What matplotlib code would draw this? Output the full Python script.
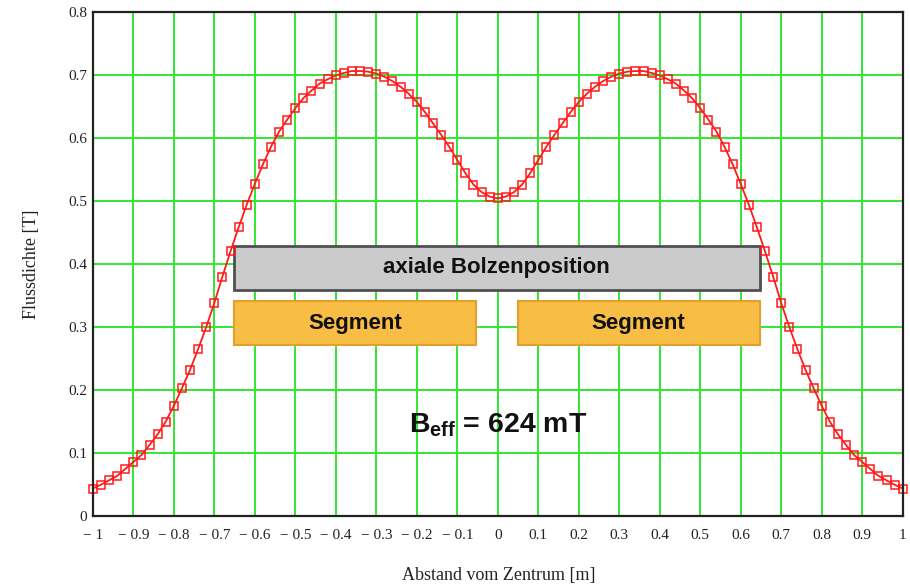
import matplotlib
matplotlib.use("Agg")
import matplotlib.pyplot as plt
from matplotlib.patches import Rectangle

# Flux density profile along the axis (positions in m, flux density in T)
positions = [round(-1 + 0.02 * i, 2) for i in range(101)]
flux = [
    0.044, 0.050, 0.057, 0.064, 0.075, 0.086, 0.097, 0.113, 0.130, 0.150,
    0.175, 0.203, 0.232, 0.265, 0.300, 0.338, 0.380, 0.420, 0.458, 0.494,
    0.527, 0.558, 0.586, 0.610, 0.629, 0.647, 0.663, 0.675, 0.686, 0.693,
    0.699, 0.703, 0.706, 0.706, 0.705, 0.702, 0.697, 0.690, 0.681, 0.670,
    0.657, 0.641, 0.623, 0.605, 0.586, 0.565, 0.544, 0.526, 0.514, 0.507,
    0.504,
    0.507, 0.514, 0.526, 0.544, 0.565, 0.586, 0.605, 0.623, 0.641, 0.657,
    0.670, 0.681, 0.690, 0.697, 0.702, 0.705, 0.706, 0.706, 0.703, 0.699,
    0.693, 0.686, 0.675, 0.663, 0.647, 0.629, 0.610, 0.586, 0.558, 0.527,
    0.494, 0.458, 0.420, 0.380, 0.338, 0.300, 0.265, 0.232, 0.203, 0.175,
    0.150, 0.130, 0.113, 0.097, 0.086, 0.075, 0.064, 0.057, 0.050, 0.044,
]

x_ticks = [-1, -0.9, -0.8, -0.7, -0.6, -0.5, -0.4, -0.3, -0.2, -0.1,
           0, 0.1, 0.2, 0.3, 0.4, 0.5, 0.6, 0.7, 0.8, 0.9, 1]
x_tick_labels = ["\u2212 1", "\u2212 0.9", "\u2212 0.8", "\u2212 0.7", "\u2212 0.6",
                 "\u2212 0.5", "\u2212 0.4", "\u2212 0.3", "\u2212 0.2", "\u2212 0.1",
                 "0", "0.1", "0.2", "0.3", "0.4", "0.5", "0.6", "0.7", "0.8", "0.9", "1"]
y_ticks = [0, 0.1, 0.2, 0.3, 0.4, 0.5, 0.6, 0.7, 0.8]
y_tick_labels = ["0", "0.1", "0.2", "0.3", "0.4", "0.5", "0.6", "0.7", "0.8"]

# Bolt and segment extents (x from, x to, y from, y to)
bolt = (-0.652, 0.647, 0.359, 0.429)
segments = [(-0.652, -0.054, 0.271, 0.341), (0.049, 0.647, 0.271, 0.341)]
b_eff_mT = 624

serif = "Liberation Serif"
sans = "Liberation Sans"

plt.rcParams["mathtext.fontset"] = "custom"
plt.rcParams["mathtext.rm"] = sans + ":bold"
plt.rcParams["mathtext.bf"] = sans + ":bold"

fig = plt.figure(figsize=(9.10, 5.88), dpi=100)
ax = fig.add_axes([0.102, 0.122, 0.890, 0.858])

ax.set_xlim(-1, 1)
ax.set_ylim(0, 0.8)
ax.set_xticks(x_ticks)
ax.set_xticklabels(x_tick_labels, fontfamily=serif, fontsize=11, color="#222222")
ax.set_yticks(y_ticks)
ax.set_yticklabels(y_tick_labels, fontfamily=serif, fontsize=11, color="#222222")
ax.tick_params(axis="x", length=0, pad=9)
ax.tick_params(axis="y", length=0, pad=4)

ax.grid(True, color="#33e633", linewidth=1.4, zorder=0)
ax.set_axisbelow(True)
for side in ["left", "bottom", "top", "right"]:
    ax.spines[side].set_color("#222222")
    ax.spines[side].set_linewidth(1.6)
    ax.spines[side].set_zorder(5)

# Boxes
x0, x1, y0, y1 = bolt
ax.add_patch(Rectangle((x0, y0), x1 - x0, y1 - y0, facecolor="#cbcbcb",
                       edgecolor="#505050", linewidth=2.0, zorder=2))
ax.text((x0 + x1) / 2, (y0 + y1) / 2, "axiale Bolzenposition", ha="center",
        va="center", fontfamily=sans, fontweight="bold", fontsize=16,
        color="#111111", zorder=3)
for (sx0, sx1, sy0, sy1) in segments:
    ax.add_patch(Rectangle((sx0, sy0), sx1 - sx0, sy1 - sy0, facecolor="#f8bd45",
                           edgecolor="#e3a02e", linewidth=1.5, zorder=2))
    ax.text((sx0 + sx1) / 2, (sy0 + sy1) / 2, "Segment", ha="center", va="center",
            fontfamily=sans, fontweight="bold", fontsize=16, color="#111111",
            zorder=3)

ax.text(0, 0.144, r"B$_{\mathbf{eff}}$ = %d mT" % b_eff_mT, ha="center",
        va="center", fontfamily=sans, fontweight="bold", fontsize=20.5,
        color="#111111", zorder=3)

# Flux density curve
ax.plot(positions, flux, color="#ff1a1a", linewidth=1.3, marker="s",
        markersize=6, markerfacecolor="none", markeredgecolor="#ff1a1a",
        markeredgewidth=1.1, zorder=4, clip_on=False)

fig.text(0.035, 0.55, "Flussdichte [T]", rotation=90, ha="center", va="center",
         fontfamily=serif, fontsize=13, color="#222222")
fig.text(0.548, 0.022, "Abstand vom Zentrum [m]", ha="center", va="center",
         fontfamily=serif, fontsize=13, color="#222222")

fig.savefig("out.png", dpi=100)
